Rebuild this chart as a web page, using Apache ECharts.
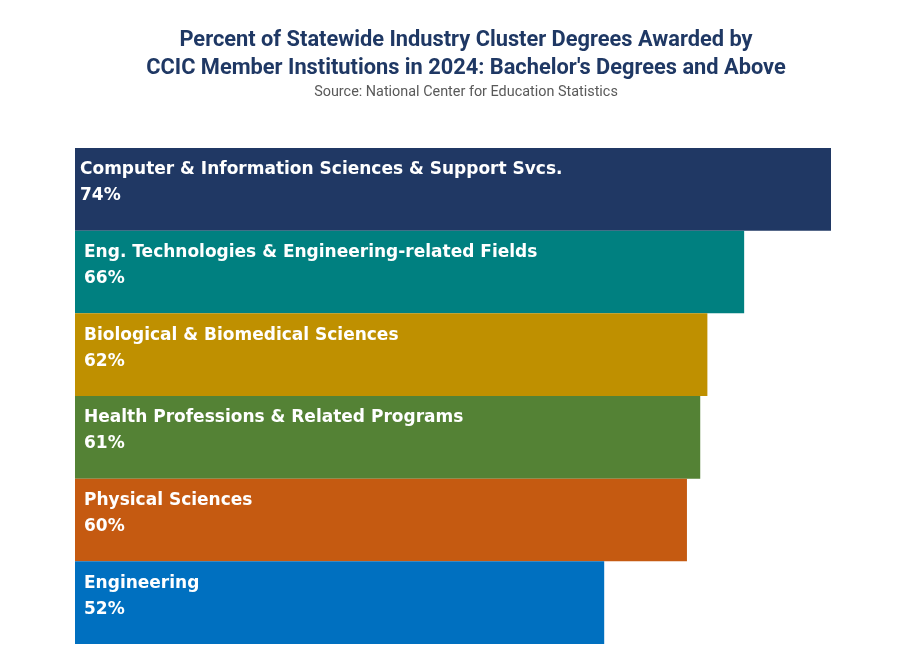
<!DOCTYPE html>
<html>
<head>
<meta charset="utf-8">
<script src="https://cdn.jsdelivr.net/npm/echarts@6/dist/echarts.min.js"></script>
<style>
  html, body { margin: 0; padding: 0; background: #fff; }
  #chart { width: 908px; height: 659px; }
</style>
</head>
<body>
<div id="chart"></div>
<script>
// categories top to bottom
const categories = [
  'Computer & Information Sciences & Support Svcs.',
  'Eng. Technologies & Engineering-related Fields',
  'Biological & Biomedical Sciences',
  'Health Professions & Related Programs',
  'Physical Sciences',
  'Engineering'
];
// percent of degrees
const percents = [74.0, 65.5, 61.9, 61.2, 59.9, 51.8];
const barColors = ['#203864', '#008080', '#BF9000', '#548235', '#C55A11', '#0070C0'];

var dom = document.getElementById('chart');
var myChart = echarts.init(dom, null, { renderer: 'canvas' });

const barData = percents.map((v, i) => ({
  value: v,
  itemStyle: { color: barColors[i] },
  label: { position: [i === 0 ? 5 : 9, 9] }
}));

var option = {
  animation: false,
  title: [
    {
      text: 'Percent of Statewide Industry Cluster Degrees Awarded by\nCCIC Member Institutions in 2024: Bachelor\'s Degrees and Above',
      left: 461,
      top: 22,
      textAlign: 'center',
      textStyle: {
        fontFamily: 'Roboto',
        fontSize: 21.8,
        fontWeight: 'bold',
        color: '#1F3864',
        lineHeight: 28
      }
    },
    {
      text: 'Source: National Center for Education Statistics',
      left: 461,
      top: 80,
      textAlign: 'center',
      textStyle: {
        fontFamily: 'Roboto',
        fontSize: 14.4,
        fontWeight: 'normal',
        color: '#595959'
      }
    }
  ],
  grid: {
    left: 75,
    right: 77,
    top: 148,
    height: 496
  },
  xAxis: {
    type: 'value',
    min: 0,
    max: 74,
    show: false
  },
  yAxis: {
    type: 'category',
    data: categories,
    inverse: true,
    show: false
  },
  series: [
    {
      type: 'bar',
      barCategoryGap: 0,
      data: barData,
      label: {
        show: true,
        formatter: p => p.name + '\n' + Math.round(p.value) + '%',
        color: '#fff',
        fontFamily: 'DejaVu Sans',
        fontWeight: 'bold',
        fontSize: 17,
        lineHeight: 26
      }
    }
  ]
};

option && myChart.setOption(option);
</script>
</body>
</html>
